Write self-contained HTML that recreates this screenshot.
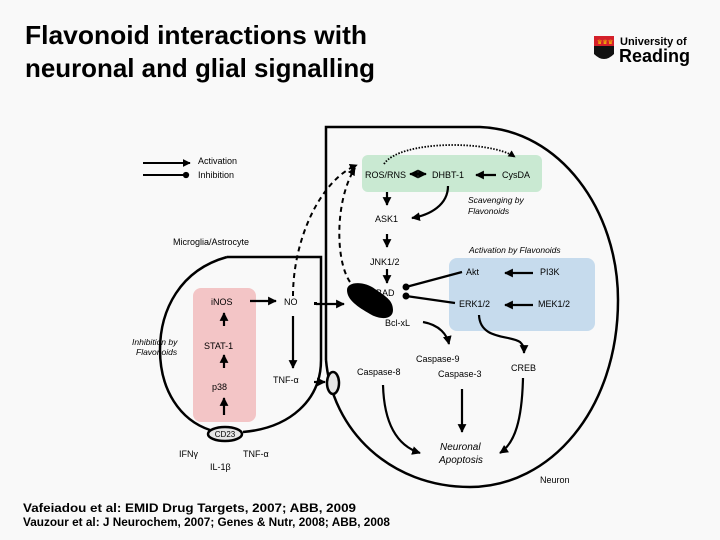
<!DOCTYPE html>
<html><head><meta charset="utf-8"><style>
html,body{margin:0;padding:0;background:#f9f9f9;}
svg{display:block;font-family:"Liberation Sans",sans-serif;}
</style></head><body>
<svg width="720" height="540" viewBox="0 0 720 540" xmlns="http://www.w3.org/2000/svg">
<defs>
<marker id="a" viewBox="0 0 10 10" refX="9" refY="5" markerWidth="4" markerHeight="4" orient="auto-start-reverse"><path d="M0,0L10,5L0,10Z" fill="#000"/></marker>
<marker id="d" viewBox="0 0 10 10" refX="5" refY="5" markerWidth="3.5" markerHeight="3.5"><circle cx="5" cy="5" r="4.5" fill="#000"/></marker>
</defs>
<rect width="720" height="540" fill="#f9f9f9"/>
<text x="25" y="44" font-size="26" font-weight="bold" textLength="342" lengthAdjust="spacingAndGlyphs">Flavonoid interactions with</text>
<text x="25" y="77" font-size="26" font-weight="bold" textLength="350" lengthAdjust="spacingAndGlyphs">neuronal and glial signalling</text>
<!-- logo -->
<rect x="594" y="36" width="20" height="10" fill="#d4202a"/>
<path d="M594,46 L614,46 L614,54 Q604,64 594,54Z" fill="#111"/>
<text x="597" y="44" font-size="6" fill="#f5d000">♛♛♛</text>
<text x="620" y="45" font-size="11" font-weight="bold">University of</text>
<text x="619" y="62" font-size="18" font-weight="bold">Reading</text>
<!-- boxes -->
<rect x="362" y="155" width="180" height="37" rx="6" fill="#c9e9d2"/>
<rect x="449" y="258" width="146" height="73" rx="8" fill="#c6dbed"/>
<rect x="193" y="288" width="63" height="134" rx="8" fill="#f3c5c6"/>
<!-- neuron -->
<path d="M326,360 L326,127 L480,127 C560,130 618,210 618,300 C618,410 550,487 470,487 C390,487 332,430 326,360" fill="none" stroke="#000" stroke-width="2.5"/>
<!-- microglia -->
<path d="M227,257 L321,257 L321,360 C321,400 290,428 243,432" fill="none" stroke="#000" stroke-width="2.5"/>
<path d="M227,257 C180,270 160,310 160,350 C160,390 180,420 210,430" fill="none" stroke="#000" stroke-width="2.5"/>
<ellipse cx="225" cy="434" rx="17" ry="7" fill="#e6e6e6" stroke="#000" stroke-width="2.5"/>
<text x="225" y="437" font-size="8" text-anchor="middle">CD23</text>
<ellipse cx="333" cy="383" rx="6" ry="11" fill="#e6e6e6" stroke="#000" stroke-width="2.5"/>
<!-- blob -->
<path d="M347,290 C347,281 365,281 375,289 C385,296 393,300 393,310 C393,320 380,320 370,314 C358,307 347,300 347,290Z" fill="#000"/>
<!-- legend -->
<line x1="143" y1="163" x2="190" y2="163" stroke="#000" stroke-width="2" marker-end="url(#a)"/>
<line x1="143" y1="175" x2="186" y2="175" stroke="#000" stroke-width="2" marker-end="url(#d)"/>
<g font-size="9">
<text x="198" y="164">Activation</text>
<text x="198" y="178">Inhibition</text>
<text x="173" y="245">Microglia/Astrocyte</text>
<text x="365" y="178">ROS/RNS</text>
<text x="432" y="178">DHBT-1</text>
<text x="502" y="178">CysDA</text>
<text x="375" y="222">ASK1</text>
<text x="370" y="265">JNK1/2</text>
<text x="376" y="296">BAD</text>
<text x="385" y="326">Bcl-xL</text>
<text x="466" y="275">Akt</text>
<text x="540" y="275">PI3K</text>
<text x="459" y="307">ERK1/2</text>
<text x="538" y="307">MEK1/2</text>
<text x="211" y="305">iNOS</text>
<text x="284" y="305">NO</text>
<text x="204" y="349">STAT-1</text>
<text x="212" y="390">p38</text>
<text x="273" y="383">TNF-α</text>
<text x="357" y="375">Caspase-8</text>
<text x="416" y="362">Caspase-9</text>
<text x="438" y="377">Caspase-3</text>
<text x="511" y="371">CREB</text>
<text x="179" y="457">IFNγ</text>
<text x="210" y="470">IL-1β</text>
<text x="243" y="457">TNF-α</text>
<text x="540" y="483">Neuron</text>
</g>
<g font-size="8.5" font-style="italic">
<text x="468" y="203">Scavenging by</text>
<text x="468" y="214">Flavonoids</text>
<text x="469" y="253">Activation by Flavonoids</text>
<text x="132" y="345">Inhibition by</text>
<text x="136" y="355">Flavonoids</text>
<text x="440" y="450" font-size="10">Neuronal</text>
<text x="439" y="463" font-size="10">Apoptosis</text>
</g>
<g stroke="#000" stroke-width="2.2" fill="none">
<line x1="410" y1="174" x2="426" y2="174" marker-end="url(#a)" marker-start="url(#a)"/>
<line x1="496" y1="175" x2="476" y2="175" marker-end="url(#a)"/>
<line x1="387" y1="192" x2="387" y2="205" marker-end="url(#a)"/>
<path d="M448,186 C448,205 430,215 412,218" marker-end="url(#a)"/>
<line x1="387" y1="234" x2="387" y2="247" marker-end="url(#a)"/>
<line x1="387" y1="269" x2="387" y2="283" marker-end="url(#a)"/>
<line x1="462" y1="272" x2="406" y2="287" marker-end="url(#d)"/>
<line x1="455" y1="303" x2="406" y2="296" marker-end="url(#d)"/>
<line x1="533" y1="273" x2="505" y2="273" marker-end="url(#a)"/>
<line x1="533" y1="305" x2="505" y2="305" marker-end="url(#a)"/>
<path d="M479,315 C480,340 510,335 520,342 C525,347 524,350 524,353" marker-end="url(#a)"/>
<path d="M423,322 C440,325 447,335 449,344" marker-end="url(#a)"/>
<line x1="250" y1="301" x2="276" y2="301" marker-end="url(#a)"/>
<line x1="316" y1="304" x2="344" y2="304" marker-end="url(#a)"/>
<line x1="224" y1="326" x2="224" y2="313" marker-end="url(#a)"/>
<line x1="224" y1="368" x2="224" y2="355" marker-end="url(#a)"/>
<line x1="224" y1="415" x2="224" y2="398" marker-end="url(#a)"/>
<line x1="293" y1="316" x2="293" y2="368" marker-end="url(#a)"/>
<line x1="314" y1="382" x2="325" y2="382" marker-end="url(#a)"/>
<path d="M383,385 C384,420 395,445 420,453" marker-end="url(#a)"/>
<line x1="462" y1="389" x2="462" y2="432" marker-end="url(#a)"/>
<path d="M523,378 C522,420 515,443 500,453" marker-end="url(#a)"/>
</g>
<g stroke="#000" stroke-width="2" fill="none" stroke-dasharray="5,4">
<path d="M293,296 C293,240 320,180 357,165" marker-end="url(#a)"/>
<path d="M350,282 C335,260 335,200 355,168" marker-end="url(#a)"/>
</g>
<path d="M384,164 C400,140 490,140 515,157" stroke="#000" stroke-width="1.8" fill="none" stroke-dasharray="1.5,1.5" marker-end="url(#a)"/>
<rect x="314" y="302" width="3" height="3" fill="#000"/>
<g font-size="11.5" font-weight="bold">
<text x="23" y="512" textLength="333" lengthAdjust="spacingAndGlyphs">Vafeiadou et al:  EMID Drug Targets, 2007;   ABB, 2009</text>
<text x="23" y="526" textLength="367" lengthAdjust="spacingAndGlyphs">Vauzour et al:  J Neurochem, 2007;  Genes &amp; Nutr, 2008;   ABB, 2008</text>
</g>
</svg>
</body></html>
